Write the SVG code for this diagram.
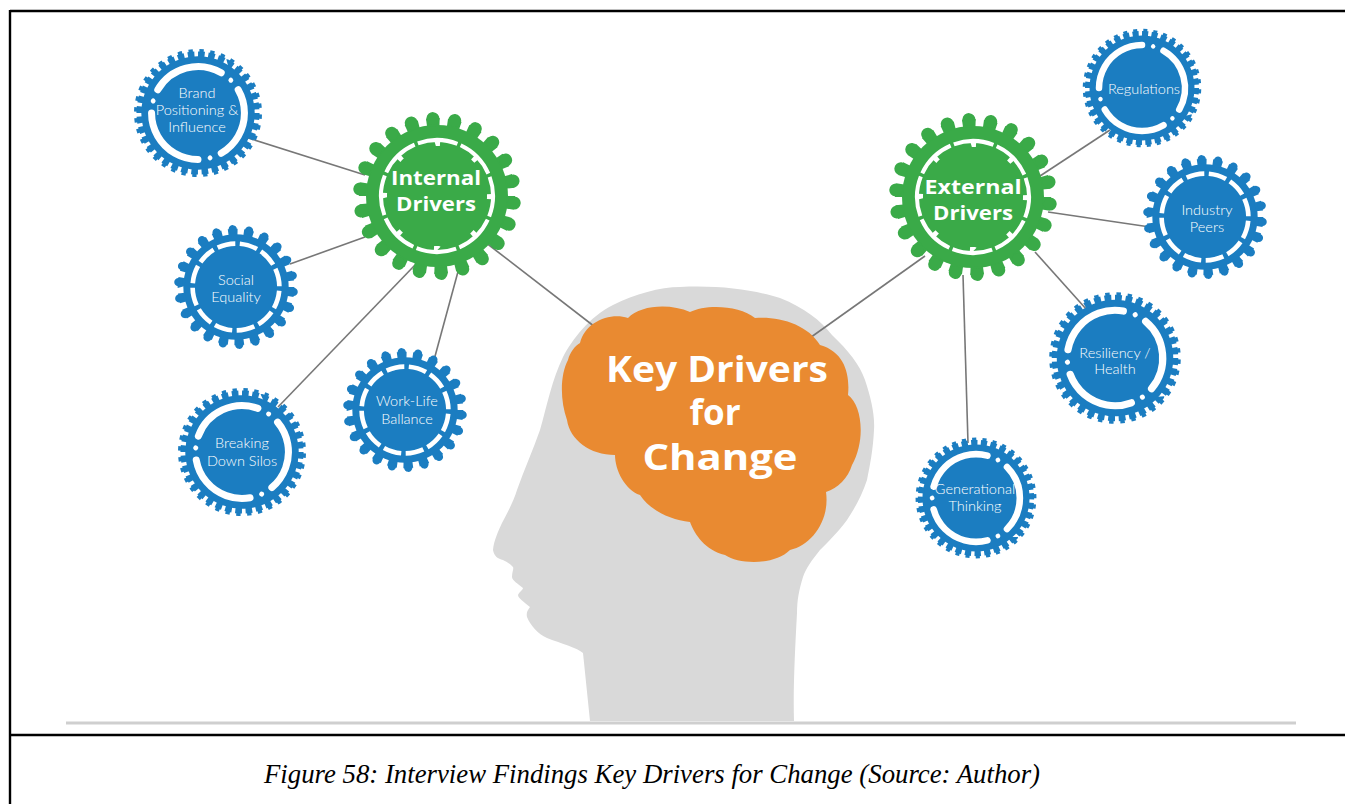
<svg xmlns="http://www.w3.org/2000/svg" xmlns:xlink="http://www.w3.org/1999/xlink" width="1345" height="804" viewBox="0 0 1345 804">
  <style>
    .blue{color:#1b7dc1}
    .green{color:#3aaa48}
    .body{fill:currentColor}
    .ring{fill:none;stroke:currentColor}
    .wring{fill:none;stroke:#fff}
    .lbl{font-family:Lato,"Open Sans",sans-serif;font-weight:300;font-size:14.5px;fill:#fff;text-anchor:middle}
    .hub{font-family:"Open Sans",sans-serif;font-weight:700;font-size:19px;fill:#fff;text-anchor:middle}
    .big{font-family:"Open Sans",sans-serif;font-weight:700;font-size:35px;fill:#fff;text-anchor:middle}
    .cap{font-family:"Liberation Serif","Times New Roman",serif;font-style:italic;font-size:27px;fill:#000}
    .wire{stroke:#777;stroke-width:1.6;fill:none}
  </style>
  <defs>
    <!-- round-toothed cog with dashed inner ring, nominal radius 60 -->
    <g id="cog-a">
      <circle class="body" r="51"/>
      <circle class="ring" r="53" stroke-width="7" pathLength="44" stroke-dasharray="1.2 0.8"/>
      <circle class="ring" r="56" stroke-width="8" stroke-linecap="round" pathLength="22" stroke-dasharray="0 1" transform="rotate(4.9)"/>
      <circle class="wring" r="42" stroke-width="4.5" pathLength="120" stroke-dasharray="8 2" transform="rotate(-85)"/>
    </g>
    <!-- fine-toothed cog with three inner arcs, nominal radius 60 -->
    <g id="cog-b">
      <circle class="body" r="52.5"/>
      <circle class="ring" r="54" stroke-width="6" pathLength="72" stroke-dasharray="1.3 0.7"/>
      <circle class="ring" r="57.5" stroke-width="3.5" pathLength="72" stroke-dasharray="0.8 1.2" transform="rotate(1.25)"/>
      <circle class="wring" r="43" stroke-width="6.5" stroke-linecap="round" pathLength="360" stroke-dasharray="90 30"/>
      <circle class="wring" r="43" stroke-width="4.5" stroke-linecap="round" pathLength="360" stroke-dasharray="0 120" transform="rotate(105)"/>
    </g>
    <!-- large hub cog, radius 84 -->
    <g id="cog-g">
      <circle class="body" r="71"/>
      <circle class="ring" r="74" stroke-width="8" pathLength="44" stroke-dasharray="1.25 0.75"/>
      <circle class="ring" r="77.5" stroke-width="13" stroke-linecap="round" pathLength="22" stroke-dasharray="0 1" transform="rotate(5.1)"/>
      <circle class="wring" r="56" stroke-width="4" pathLength="100" stroke-dasharray="11.5 1" transform="rotate(-110)"/>
      <circle class="wring" r="52.5" stroke-width="5" pathLength="100" stroke-dasharray="1.5 11" transform="rotate(-92)"/>
    </g>
  </defs>

  <rect width="1345" height="804" fill="#fff"/>

  <!-- frame -->
  <g id="frame" stroke="#000" stroke-width="2.4" fill="none">
    <line x1="10" y1="11" x2="1345" y2="11"/>
    <line x1="10" y1="10" x2="10" y2="804"/>
    <line x1="10" y1="735" x2="1345" y2="735"/>
  </g>
  <line x1="66" y1="723" x2="1296" y2="723" stroke="#cfcfcf" stroke-width="3"/>

  <!-- head silhouette -->
  <g id="head">
    <path fill="#d9d9d9" d="M 590,721 L 583,653 C 578,648 560,643 547,638 C 538,634 530,625 527,617 C 526,612 528,610 530,607 C 524,602 518,598 518,595 C 519,592 523,590 523,588 C 518,584 512,580 512,577 C 512,572 514,569 513,567 C 509,563 505,561 503,560 C 498,559 494,556 493,550 C 494,540 498,532 502,523 C 508,512 514,500 517,490 C 524,470 533,450 540,430 C 547,405 552,380 563,357 C 572,340 590,316 613,305 C 635,294 660,287 680,287 C 720,285 755,290 780,298 C 805,308 820,320 832,335 C 848,350 860,365 865,380 C 871,398 875,415 874,430 C 873,450 870,465 867,480 C 862,495 855,508 847,520 C 838,532 828,542 820,550 C 812,560 806,568 803,577 C 799,590 797,600 797,613 C 795,650 793,690 794,721 Z"/>
  </g>

  <!-- connectors -->
  <g id="connectors">
    <line class="wire" x1="245" y1="137" x2="365" y2="175"/>
    <line class="wire" x1="290" y1="264" x2="365" y2="237"/>
    <line class="wire" x1="278" y1="407" x2="415" y2="265"/>
    <line class="wire" x1="434" y1="360" x2="459" y2="268"/>
    <line class="wire" x1="485" y1="242" x2="608" y2="337"/>
    <line class="wire" x1="800" y1="345" x2="925" y2="256"/>
    <line class="wire" x1="1040" y1="176" x2="1110" y2="130"/>
    <line class="wire" x1="1048" y1="212" x2="1150" y2="227"/>
    <line class="wire" x1="1035" y1="252" x2="1087" y2="310"/>
    <line class="wire" x1="963" y1="275" x2="968" y2="443"/>
  </g>

  <!-- brain -->
  <g id="brain">
    <path fill="#e98a31" d="M 580,343 C 585,322 610,312 628,318 C 640,305 670,303 690,312 C 705,304 740,305 755,318 C 780,316 808,325 820,345 C 845,352 850,375 848,395 C 862,405 866,440 852,465 C 848,478 838,488 826,492 C 830,520 812,545 790,550 C 775,565 740,565 725,555 C 705,550 695,535 690,522 C 670,520 650,510 640,495 C 625,490 615,470 615,455 C 590,455 570,440 567,420 C 560,400 560,375 568,360 C 570,352 575,346 580,343 Z"/>
    <text class="big" x="717" y="382" textLength="222" lengthAdjust="spacingAndGlyphs">Key Drivers</text>
    <text class="big" x="715" y="425">for</text>
    <text class="big" x="720" y="470" textLength="155" lengthAdjust="spacingAndGlyphs">Change</text>
  </g>

  <!-- hub cogs -->
  <g id="internal-drivers">
    <use href="#cog-g" class="green" transform="translate(437,196)"/>
    <text class="hub" x="436" y="185" textLength="90" lengthAdjust="spacingAndGlyphs">Internal</text>
    <text class="hub" x="436" y="211" textLength="80" lengthAdjust="spacingAndGlyphs">Drivers</text>
  </g>
  <g id="external-drivers">
    <use href="#cog-g" class="green" transform="translate(973,197)"/>
    <text class="hub" x="973" y="194" textLength="97" lengthAdjust="spacingAndGlyphs">External</text>
    <text class="hub" x="973" y="220" textLength="80" lengthAdjust="spacingAndGlyphs">Drivers</text>
  </g>

  <!-- internal driver cogs -->
  <g id="brand-positioning">
    <use href="#cog-b" class="blue" transform="translate(198,113) scale(1.08) rotate(-150)"/>
    <text class="lbl" x="197" y="98">Brand</text>
    <text class="lbl" x="197" y="115">Positioning &amp;</text>
    <text class="lbl" x="197" y="132">Influence</text>
  </g>
  <g id="social-equality">
    <use href="#cog-a" class="blue" transform="translate(236,287) scale(1.033)"/>
    <text class="lbl" x="236" y="285">Social</text>
    <text class="lbl" x="236" y="302">Equality</text>
  </g>
  <g id="breaking-down-silos">
    <use href="#cog-b" class="blue" transform="translate(242,452) scale(1.08) rotate(-160)"/>
    <text class="lbl" x="242" y="448">Breaking</text>
    <text class="lbl" x="242" y="466">Down Silos</text>
  </g>
  <g id="work-life-ballance">
    <use href="#cog-a" class="blue" transform="translate(405,410) scale(1.033)"/>
    <text class="lbl" x="407" y="406">Work-Life</text>
    <text class="lbl" x="407" y="424">Ballance</text>
  </g>

  <!-- external driver cogs -->
  <g id="regulations">
    <use href="#cog-b" class="blue" transform="translate(1142,88) rotate(-60)"/>
    <text class="lbl" x="1144" y="94">Regulations</text>
  </g>
  <g id="industry-peers">
    <use href="#cog-a" class="blue" transform="translate(1205,217) scale(1.033)"/>
    <text class="lbl" x="1207" y="215">Industry</text>
    <text class="lbl" x="1207" y="232">Peers</text>
  </g>
  <g id="resiliency-health">
    <use href="#cog-b" class="blue" transform="translate(1115,358) scale(1.11) rotate(-50)"/>
    <text class="lbl" x="1115" y="358">Resiliency /</text>
    <text class="lbl" x="1115" y="374">Health</text>
  </g>
  <g id="generational-thinking">
    <use href="#cog-b" class="blue" transform="translate(976,498) scale(1.02) rotate(-45)"/>
    <text class="lbl" x="975" y="494">Generational</text>
    <text class="lbl" x="975" y="511">Thinking</text>
  </g>

  <!-- caption -->
  <text class="cap" x="264" y="783" textLength="776" lengthAdjust="spacingAndGlyphs">Figure 58: Interview Findings Key Drivers for Change (Source: Author)</text>
</svg>
